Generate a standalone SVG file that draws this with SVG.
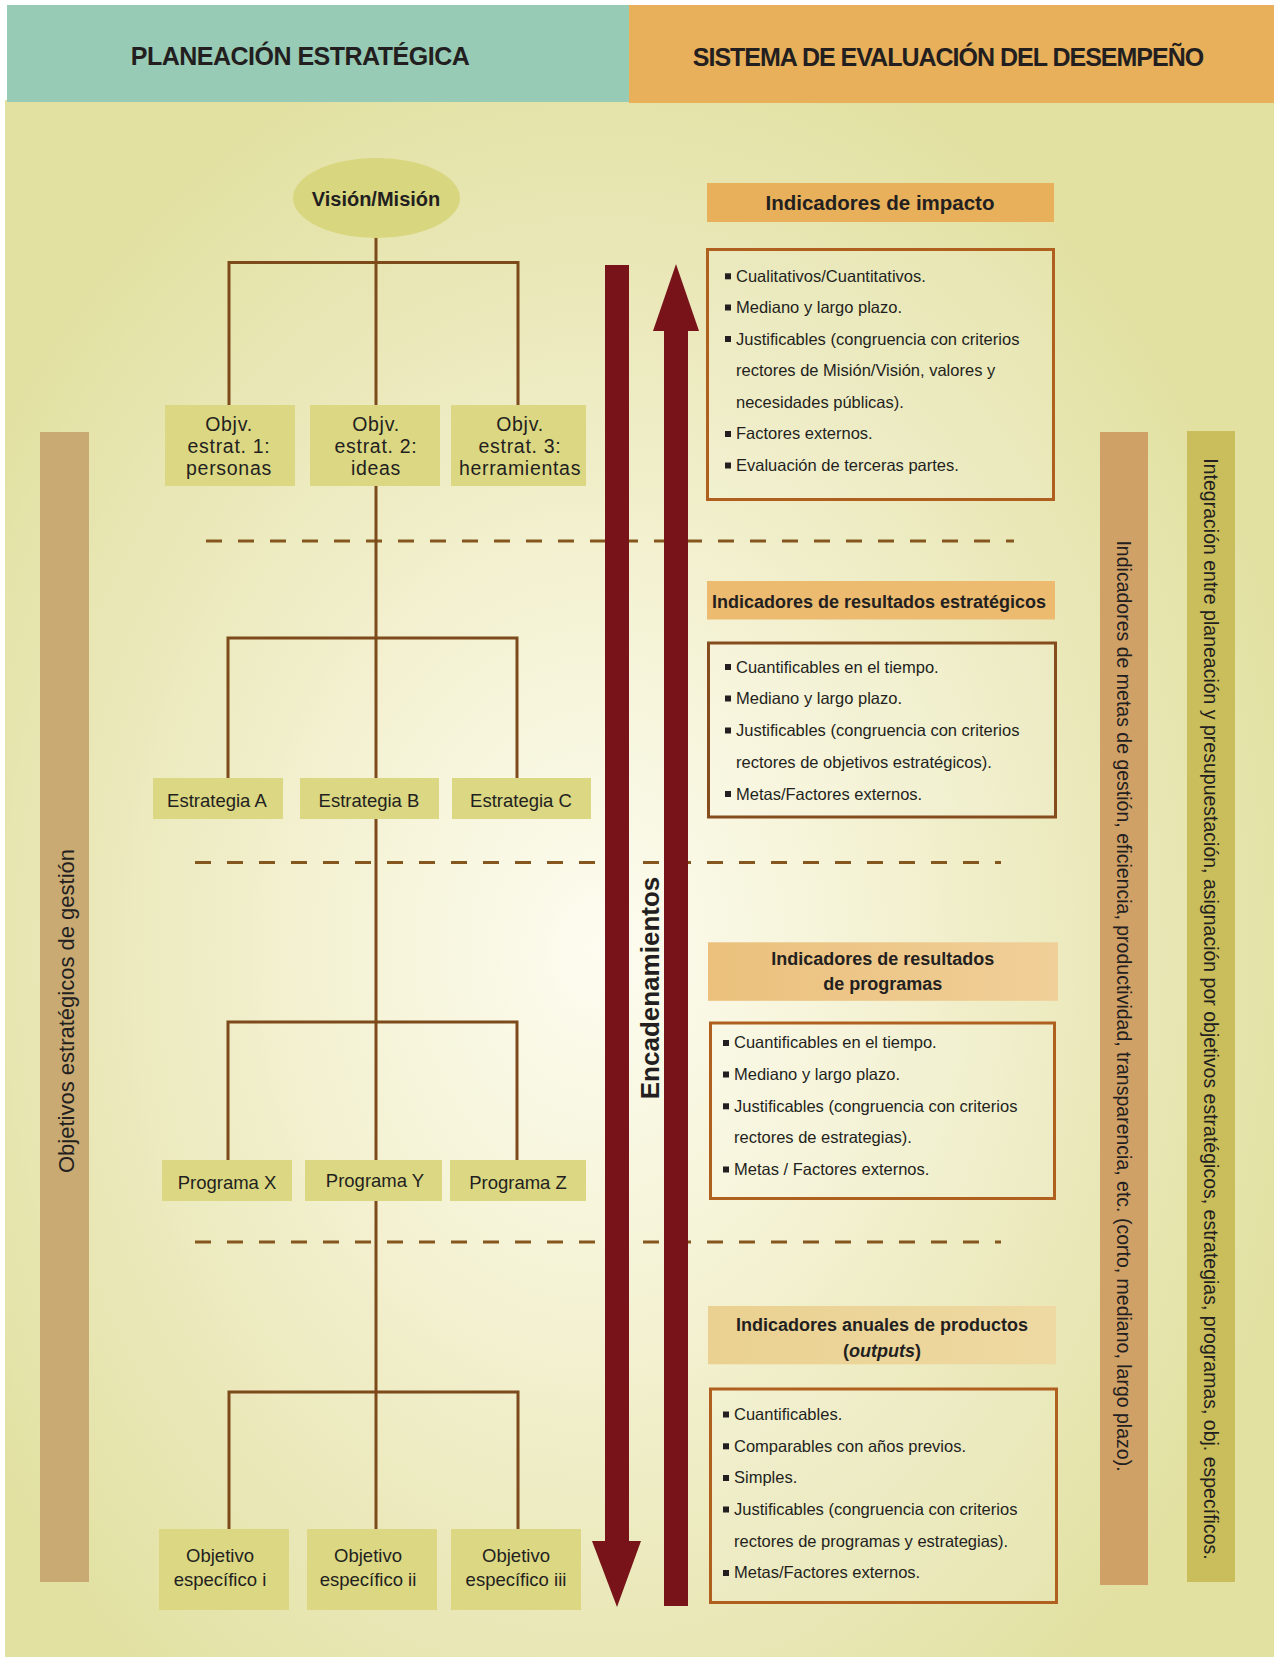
<svg xmlns="http://www.w3.org/2000/svg" width="1274" height="1657" viewBox="0 0 1274 1657">
<defs>
<radialGradient id="bg" gradientUnits="userSpaceOnUse" cx="600" cy="950" r="720" gradientTransform="translate(600 950) scale(1 1.3) translate(-600 -950)">
<stop offset="0" stop-color="#fdfcf0"/>
<stop offset="0.35" stop-color="#f5f3d6"/>
<stop offset="0.75" stop-color="#e9e7b6"/>
<stop offset="1" stop-color="#e2e1a2"/>
</radialGradient>
<linearGradient id="h3" x1="0" y1="0" x2="1" y2="0">
<stop offset="0" stop-color="#ebc07c"/>
<stop offset="1" stop-color="#f0cf98"/>
</linearGradient>
<linearGradient id="h4" x1="0" y1="0" x2="1" y2="0">
<stop offset="0" stop-color="#ead191"/>
<stop offset="1" stop-color="#eed9a2"/>
</linearGradient>
<style>
text{font-family:"Liberation Sans",Arial,sans-serif;fill:#231f20}
.node{fill:#dbd783}
.conn{stroke:#7d4a1b;stroke-width:3;fill:none}
.dash{stroke:#86561f;stroke-width:3;stroke-dasharray:16 16;fill:none}
.nt{font-size:19.5px;letter-spacing:0.7px;text-anchor:middle}
.ns{font-size:18.5px;text-anchor:middle}
.hd{font-weight:bold;text-anchor:middle}
.li{font-size:16.5px}
.box{fill:#ffffff;fill-opacity:0.12;stroke:#b0601e;stroke-width:3}
.bul{fill:#231f20}
.red{fill:#781419}
</style>
</defs>

<!-- background -->
<rect x="5" y="100" width="1269" height="1557" fill="url(#bg)"/>

<!-- header -->
<g id="header-planeacion">
<rect x="7" y="5" width="622" height="97" fill="#98cbb6"/>
<text x="300" y="65" class="hd" font-size="25" letter-spacing="-0.5">PLANEACIÓN ESTRATÉGICA</text>
</g>
<g id="header-sistema">
<rect x="629" y="5" width="645" height="98" fill="#e8b05a"/>
<text x="948" y="66" class="hd" font-size="25" letter-spacing="-1">SISTEMA DE EVALUACIÓN DEL DESEMPEÑO</text>
</g>

<!-- side bars -->
<g id="bar-objetivos">
<rect x="40" y="432" width="49" height="1150" fill="#c8aa72"/>
<text transform="translate(74 1011) rotate(-90)" text-anchor="middle" font-size="22">Objetivos estratégicos de gestión</text>
</g>
<g id="bar-indicadores-metas">
<rect x="1100" y="432" width="48" height="1153" fill="#d0a167"/>
<text transform="translate(1117 1006) rotate(90)" text-anchor="middle" font-size="19.5">Indicadores de metas de gestión, eficiencia, productividad, transparencia, etc. (corto, mediano, largo plazo).</text>
</g>
<g id="bar-integracion">
<rect x="1187" y="431" width="48" height="1151" fill="#cabd5b"/>
<text transform="translate(1204 1009) rotate(90)" text-anchor="middle" font-size="19.5">Integración entre planeación y presupuestación, asignación por objetivos estratégicos, estrategias, programas, obj. específicos.</text>
</g>

<!-- connectors -->
<g id="connectors">
<line class="dash" x1="206" y1="541" x2="1014" y2="541"/>
<line class="dash" x1="195" y1="862.5" x2="1001" y2="862.5"/>
<line class="dash" x1="195" y1="1242" x2="1001" y2="1242"/>
<line class="conn" x1="376" y1="236" x2="376" y2="1529"/>
<path class="conn" d="M229 405 V262.5 H518 V405"/>
<path class="conn" d="M228 778 V638 H517 V778"/>
<path class="conn" d="M228 1160 V1022 H517 V1160"/>
<path class="conn" d="M229 1529 V1392 H518 V1529"/>
</g>

<!-- encadenamientos arrows -->
<g id="encadenamientos">
<rect class="red" x="605" y="265" width="24" height="1278"/>
<polygon class="red" points="592,1541 641,1541 617,1607"/>
<rect class="red" x="664" y="329" width="24" height="1277"/>
<polygon class="red" points="653,331 699,331 676,264"/>
<text transform="translate(659 988) rotate(-90)" text-anchor="middle" font-size="26" font-weight="bold">Encadenamientos</text>
</g>

<!-- tree nodes -->
<g id="vision-mision">
<ellipse cx="376.5" cy="198" rx="83.5" ry="40" fill="#d8d67e"/>
<text x="376" y="205.5" class="hd" font-size="20">Visión/Misión</text>
</g>
<g id="objv-1">
<rect class="node" x="165" y="405" width="130" height="81"/>
<text class="nt"><tspan x="229" y="430.5">Objv.</tspan><tspan x="229" y="452.5">estrat. 1:</tspan><tspan x="229" y="474.5">personas</tspan></text>
</g>
<g id="objv-2">
<rect class="node" x="310" y="405" width="130" height="81"/>
<text class="nt"><tspan x="376" y="430.5">Objv.</tspan><tspan x="376" y="452.5">estrat. 2:</tspan><tspan x="376" y="474.5">ideas</tspan></text>
</g>
<g id="objv-3">
<rect class="node" x="451" y="405" width="135" height="81"/>
<text class="nt"><tspan x="520" y="430.5">Objv.</tspan><tspan x="520" y="452.5">estrat. 3:</tspan><tspan x="520" y="474.5">herramientas</tspan></text>
</g>
<g id="estrategia-a">
<rect class="node" x="153" y="778" width="130" height="41"/>
<text class="ns" x="217" y="806.5">Estrategia A</text>
</g>
<g id="estrategia-b">
<rect class="node" x="300" y="778" width="139" height="41"/>
<text class="ns" x="369" y="806.5">Estrategia B</text>
</g>
<g id="estrategia-c">
<rect class="node" x="452" y="778" width="139" height="41"/>
<text class="ns" x="521" y="806.5">Estrategia C</text>
</g>
<g id="programa-x">
<rect class="node" x="162" y="1160" width="130" height="41"/>
<text class="ns" x="227" y="1188.5">Programa X</text>
</g>
<g id="programa-y">
<rect class="node" x="305" y="1160" width="137" height="41"/>
<text class="ns" x="375" y="1186.5">Programa Y</text>
</g>
<g id="programa-z">
<rect class="node" x="450" y="1160" width="136" height="41"/>
<text class="ns" x="518" y="1188.5">Programa Z</text>
</g>
<g id="objetivo-i">
<rect class="node" x="159" y="1529" width="130" height="81"/>
<text class="ns"><tspan x="220" y="1561.5">Objetivo</tspan><tspan x="220" y="1586">específico i</tspan></text>
</g>
<g id="objetivo-ii">
<rect class="node" x="307" y="1529" width="130" height="81"/>
<text class="ns"><tspan x="368" y="1561.5">Objetivo</tspan><tspan x="368" y="1586">específico ii</tspan></text>
</g>
<g id="objetivo-iii">
<rect class="node" x="451" y="1529" width="130" height="81"/>
<text class="ns"><tspan x="516" y="1561.5">Objetivo</tspan><tspan x="516" y="1586">específico iii</tspan></text>
</g>

<!-- indicator panels -->
<g id="ind-impacto">
<rect x="707" y="183" width="347" height="39" fill="#e8b05a"/>
<text x="880" y="210" class="hd" font-size="20.5">Indicadores de impacto</text>
<rect class="box" x="707.5" y="249.5" width="346" height="250"/>
<rect class="bul" x="725" y="273.3" width="6" height="6"/>
<rect class="bul" x="725" y="304.5" width="6" height="6"/>
<rect class="bul" x="725" y="336" width="6" height="6"/>
<rect class="bul" x="725" y="431" width="6" height="6"/>
<rect class="bul" x="725" y="462.5" width="6" height="6"/>
<text class="li" x="736" y="281.7">Cualitativos/Cuantitativos.</text>
<text class="li" x="736" y="313">Mediano y largo plazo.</text>
<text class="li" x="736" y="344.5">Justificables (congruencia con criterios</text>
<text class="li" x="736" y="376">rectores de Misión/Visión, valores y</text>
<text class="li" x="736" y="407.7">necesidades públicas).</text>
<text class="li" x="736" y="439.3">Factores externos.</text>
<text class="li" x="736" y="471">Evaluación de terceras partes.</text>
</g>
<g id="ind-resultados-estrategicos">
<rect x="707" y="581" width="348" height="38.5" fill="#ecbb70"/>
<text x="879" y="608.3" class="hd" font-size="18">Indicadores de resultados estratégicos</text>
<rect class="box" x="708.5" y="643" width="347" height="174" style="stroke:#854c1e"/>
<rect class="bul" x="725" y="664" width="6" height="6"/>
<rect class="bul" x="725" y="695.5" width="6" height="6"/>
<rect class="bul" x="725" y="727.5" width="6" height="6"/>
<rect class="bul" x="725" y="791" width="6" height="6"/>
<text class="li" x="736" y="672.5">Cuantificables en el tiempo.</text>
<text class="li" x="736" y="704">Mediano y largo plazo.</text>
<text class="li" x="736" y="736">Justificables (congruencia con criterios</text>
<text class="li" x="736" y="767.5">rectores de objetivos estratégicos).</text>
<text class="li" x="736" y="799.5">Metas/Factores externos.</text>
</g>
<g id="ind-resultados-programas">
<rect x="708" y="942.3" width="350" height="58.5" fill="url(#h3)"/>
<text class="hd" font-size="18"><tspan x="882.7" y="965">Indicadores de resultados</tspan><tspan x="882.7" y="990">de programas</tspan></text>
<rect class="box" x="710.5" y="1023" width="344" height="175.5"/>
<rect class="bul" x="723" y="1040" width="6" height="6"/>
<rect class="bul" x="723" y="1071.5" width="6" height="6"/>
<rect class="bul" x="723" y="1103.3" width="6" height="6"/>
<rect class="bul" x="723" y="1166.5" width="6" height="6"/>
<text class="li" x="734" y="1048.3">Cuantificables en el tiempo.</text>
<text class="li" x="734" y="1080">Mediano y largo plazo.</text>
<text class="li" x="734" y="1111.7">Justificables (congruencia con criterios</text>
<text class="li" x="734" y="1143.3">rectores de estrategias).</text>
<text class="li" x="734" y="1175">Metas / Factores externos.</text>
</g>
<g id="ind-anuales-productos">
<rect x="708" y="1306" width="348" height="58.3" fill="url(#h4)"/>
<text class="hd" font-size="18"><tspan x="882" y="1330.7">Indicadores anuales de productos</tspan><tspan x="882" y="1356.7">(<tspan font-style="italic">outputs</tspan>)</tspan></text>
<rect class="box" x="710.5" y="1389" width="346" height="213.5"/>
<rect class="bul" x="723" y="1411.5" width="6" height="6"/>
<rect class="bul" x="723" y="1443.3" width="6" height="6"/>
<rect class="bul" x="723" y="1475" width="6" height="6"/>
<rect class="bul" x="723" y="1506.5" width="6" height="6"/>
<rect class="bul" x="723" y="1570" width="6" height="6"/>
<text class="li" x="734" y="1420">Cuantificables.</text>
<text class="li" x="734" y="1451.7">Comparables con años previos.</text>
<text class="li" x="734" y="1483.3">Simples.</text>
<text class="li" x="734" y="1515">Justificables (congruencia con criterios</text>
<text class="li" x="734" y="1546.7">rectores de programas y estrategias).</text>
<text class="li" x="734" y="1578.3">Metas/Factores externos.</text>
</g>
</svg>
